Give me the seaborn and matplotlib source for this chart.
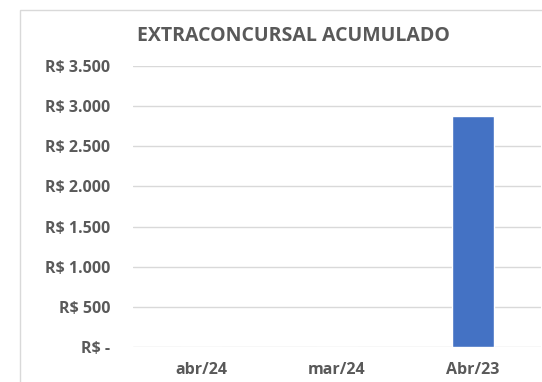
import matplotlib
matplotlib.use("Agg")
import matplotlib.pyplot as plt
import matplotlib.patches as mpatches
from matplotlib.ticker import FuncFormatter, MultipleLocator
import pandas as pd
import seaborn as sns

# data
months = ["abr/24", "mar/24", "Abr/23"]
values = [0, 0, 2875]

TEXT_GRAY = "#595959"
GRID_GRAY = "#d9d9d9"
BAR_BLUE = "#4472C4"


def brl(v, _pos):
    if v == 0:
        return "R$ -"
    return "R$ " + f"{int(v):,}".replace(",", ".")


def main() -> None:
    sns.set_theme(style="white")
    plt.rcParams["font.family"] = ["Open Sans", "DejaVu Sans"]

    df = pd.DataFrame({"month": months, "value": values})

    fig = plt.figure(figsize=(5.42, 3.82), dpi=100)
    # chart frame (cut off on right/bottom like the screenshot)
    fig.patches.append(mpatches.Rectangle(
        (19.5 / 542, -0.05), 1.0, 1 - 10 / 382 + 0.05,
        transform=fig.transFigure, fill=False, edgecolor=GRID_GRAY, lw=1.0))

    ax = fig.add_axes([133 / 542, 35 / 382, 408 / 542, 281 / 382])
    sns.barplot(data=df, x="month", y="value", color=BAR_BLUE, width=0.31,
                saturation=1, ax=ax)

    ax.set_xlim(-0.5, 2.5)
    ax.set_ylim(0, 3500)
    ax.yaxis.set_major_locator(MultipleLocator(500))
    ax.yaxis.set_major_formatter(FuncFormatter(brl))
    ax.grid(axis="y", color=GRID_GRAY, lw=1.0)
    ax.set_axisbelow(True)
    for s in ax.spines.values():
        s.set_visible(False)
    ax.set_xlabel("")
    ax.set_ylabel("")
    ax.tick_params(axis="y", length=0, pad=16.5, labelsize=11.5, labelcolor=TEXT_GRAY)
    ax.tick_params(axis="x", length=0, pad=11, labelsize=11.5, labelcolor=TEXT_GRAY)
    for lab in ax.get_xticklabels() + ax.get_yticklabels():
        lab.set_fontweight("bold")

    fig.text(293.5 / 542, 1 - 36 / 382, "EXTRACONCURSAL ACUMULADO", ha="center",
             va="center", fontsize=14, fontweight="bold", color=TEXT_GRAY)

    fig.savefig("out.png", dpi=100)
    plt.close(fig)


if __name__ == "__main__":
    main()
